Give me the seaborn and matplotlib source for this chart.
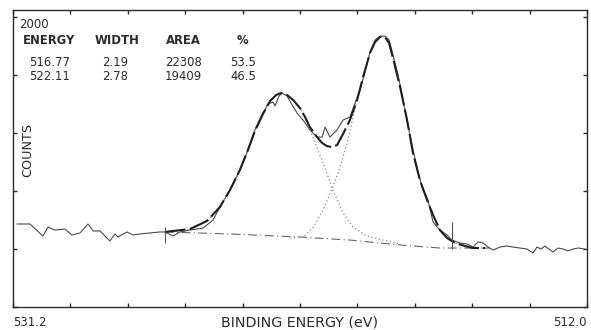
"""
XPS spectrum with two-peak fit (scanned figure recreation)
"""
import matplotlib
matplotlib.use("Agg")
import matplotlib.pyplot as plt
import seaborn as sns
import numpy as np
import pandas as pd

# raw spectrum (binding energy in eV, counts)
raw_energy = [531.07, 530.63, 530.20, 530.03, 529.80, 529.46, 529.23, 528.96, 528.69, 528.52,
              528.29, 527.96, 527.79, 527.69, 527.39, 527.19, 526.95, 526.62, 526.28, 526.12,
              525.85, 525.61, 525.28, 524.84, 524.51, 524.28, 523.94, 523.61, 523.34, 523.11,
              522.84, 522.67, 522.50, 522.44, 522.30, 522.20, 522.03, 521.90, 521.70, 521.50,
              521.27, 521.03, 520.86, 520.76, 520.60, 520.36, 520.16, 519.93, 519.76, 519.59,
              519.43, 519.26, 519.09, 518.92, 518.76, 518.62, 518.49, 518.32, 518.15, 517.99,
              517.82, 517.65, 517.49, 517.32, 517.15, 516.92, 516.68, 516.52, 516.25, 516.01,
              515.81, 515.65, 515.48, 515.31, 515.14, 514.91, 514.68, 514.48, 514.24, 514.01,
              513.81, 513.67, 513.54, 513.41, 513.27, 513.14, 512.97, 512.80, 512.64, 512.47,
              512.30, 512.07]
raw_counts = [573, 573, 490, 552, 531, 538, 497, 511, 573, 525,
              525, 456, 504, 483, 518, 497, 504, 511, 518, 518,
              490, 518, 531, 545, 600, 690, 808, 946, 1084, 1222,
              1339, 1401, 1415, 1387, 1456, 1477, 1456, 1408, 1339, 1291,
              1222, 1173, 1173, 1242, 1173, 1222, 1291, 1311, 1408, 1498,
              1622, 1760, 1843, 1870, 1870, 1843, 1739, 1601, 1429, 1256,
              1084, 932, 808, 739, 587, 531, 497, 462, 442, 435,
              414, 449, 442, 414, 393, 414, 421, 414, 407, 400,
              373, 414, 400, 421, 400, 380, 407, 400, 387, 400,
              407, 400]

# total fit envelope
fit_energy = [526.12, 525.28, 524.71, 524.28, 523.94, 523.61, 523.34, 523.11, 522.84, 522.60,
              522.40, 522.24, 522.03, 521.83, 521.60, 521.43, 521.27, 521.03, 520.86, 520.70,
              520.53, 520.36, 520.16, 519.93, 519.69, 519.49, 519.26, 519.09, 518.92, 518.76,
              518.62, 518.49, 518.25, 518.02, 517.82, 517.59, 517.35, 517.15, 516.92, 516.68,
              516.42, 516.08, 515.81, 515.41]
fit_counts = [518, 538, 594, 690, 808, 946, 1084, 1215, 1332, 1422,
              1463, 1477, 1463, 1429, 1373, 1311, 1242, 1173, 1132, 1111,
              1104, 1118, 1194, 1291, 1429, 1587, 1753, 1829, 1864, 1864,
              1822, 1719, 1518, 1291, 1063, 877, 739, 635, 531, 476,
              442, 421, 407, 407]

# component at 522.11 eV
comp1_energy = [526.12, 525.28, 524.71, 524.28, 523.94, 523.61, 523.34, 523.11, 522.84, 522.60,
                522.40, 522.24, 522.03, 521.83, 521.60, 521.43, 521.17, 520.83, 520.50, 520.16,
                519.83, 519.36, 518.82, 518.25]
comp1_counts = [518, 538, 594, 690, 808, 946, 1084, 1215, 1332, 1422,
                1463, 1477, 1463, 1429, 1373, 1311, 1173, 994, 808, 649,
                552, 490, 462, 435]

# component at 516.77 eV
comp2_energy = [521.93, 521.50, 521.17, 520.83, 520.50, 520.26, 520.03, 519.86, 519.69, 519.49,
                519.26, 519.09, 518.92, 518.76, 518.62, 518.49, 518.25, 518.02, 517.82, 517.59,
                517.35, 517.15, 516.92, 516.68, 516.42, 516.08, 515.81]
comp2_counts = [476, 483, 545, 669, 828, 966, 1132, 1277, 1429, 1587,
                1753, 1829, 1864, 1864, 1822, 1719, 1518, 1291, 1063, 877,
                739, 635, 531, 476, 442, 421, 407]

# background
base_energy = [526.12, 523.94, 521.60, 519.93, 518.25, 516.92, 515.24]
base_counts = [518, 504, 483, 462, 428, 407, 407]

# fit region markers
mark_energy = [526.12, 516.52]
mark_low = [442, 400]
mark_high = [552, 587]

table_header = ["ENERGY", "WIDTH", "AREA", "%"]
table_rows = [["516.77", "2.19", "22308", "53.5"],
              ["522.11", "2.78", "19409", "46.5"]]

sns.set_style("white")
plt.rcParams['font.family'] = ['DejaVu Sans']

ink = "#2b2b2b"
fig = plt.figure(figsize=(5.91, 3.30), dpi=100)
ax = fig.add_axes([13 / 591, 23 / 330, 574 / 591, 297 / 330])

sns.lineplot(x=raw_energy, y=raw_counts, sort=False, estimator=None,
             color="#4a4a4a", lw=0.8, ax=ax)
sns.lineplot(x=base_energy, y=base_counts, sort=False, estimator=None,
             color="#666666", lw=0.8, linestyle=(0, (8, 3, 1, 3)), ax=ax)
sns.lineplot(x=comp1_energy, y=comp1_counts, sort=False, estimator=None,
             color="#8a8a8a", lw=0.9, linestyle=(0, (1, 2)), ax=ax)
sns.lineplot(x=comp2_energy, y=comp2_counts, sort=False, estimator=None,
             color="#8a8a8a", lw=0.9, linestyle=(0, (1, 2)), ax=ax)
sns.lineplot(x=fit_energy, y=fit_counts, sort=False, estimator=None,
             color="#1e1e1e", lw=1.5, linestyle=(0, (10, 2)), ax=ax)
ax.vlines(mark_energy, mark_low, mark_high, color="#555555", lw=0.8)

ax.set_xlim(531.2, 512.0)
ax.set_ylim(0, 2050)
ax.set_xticks(np.linspace(512.0, 531.2, 11))
ax.set_yticks(np.arange(0, 2001, 400))
ax.set_xticklabels([])
ax.set_yticklabels([])
ax.tick_params(direction="in", length=3, width=1, color=ink,
               top=True, right=True, bottom=True, left=True)
for s in ax.spines.values():
    s.set_color(ink)
    s.set_linewidth(1.0)
ax.set_xlabel("")
ax.set_ylabel("")

# labels
fig.text(13 / 591, 1 - 323 / 330, "531.2", fontsize=8.5, color=ink, va="center", ha="left")
fig.text(587 / 591, 1 - 323 / 330, "512.0", fontsize=8.5, color=ink, va="center", ha="right")
fig.text(300 / 591, 1 - 323 / 330, "BINDING ENERGY (eV)", fontsize=10.3, color=ink,
         va="center", ha="center")
fig.text(28 / 591, 1 - 150 / 330, "COUNTS", fontsize=9.2, color=ink, rotation=90,
         va="center", ha="center")
fig.text(19 / 591, 1 - 24 / 330, "2000", fontsize=8.5, color=ink, va="center", ha="left")

header_x = [23, 95, 166, 237]
for hx, h in zip(header_x, table_header):
    fig.text(hx / 591, 1 - 41 / 330, h, fontsize=8.4, fontweight="bold", color=ink,
             va="center", ha="left")
row_x = [29, 102, 165, 230]
for ry, row in zip([62, 76], table_rows):
    for rx, val in zip(row_x, row):
        fig.text(rx / 591, 1 - ry / 330, val, fontsize=8.4, color=ink, va="center", ha="left")

fig.savefig("out.png", dpi=100)
